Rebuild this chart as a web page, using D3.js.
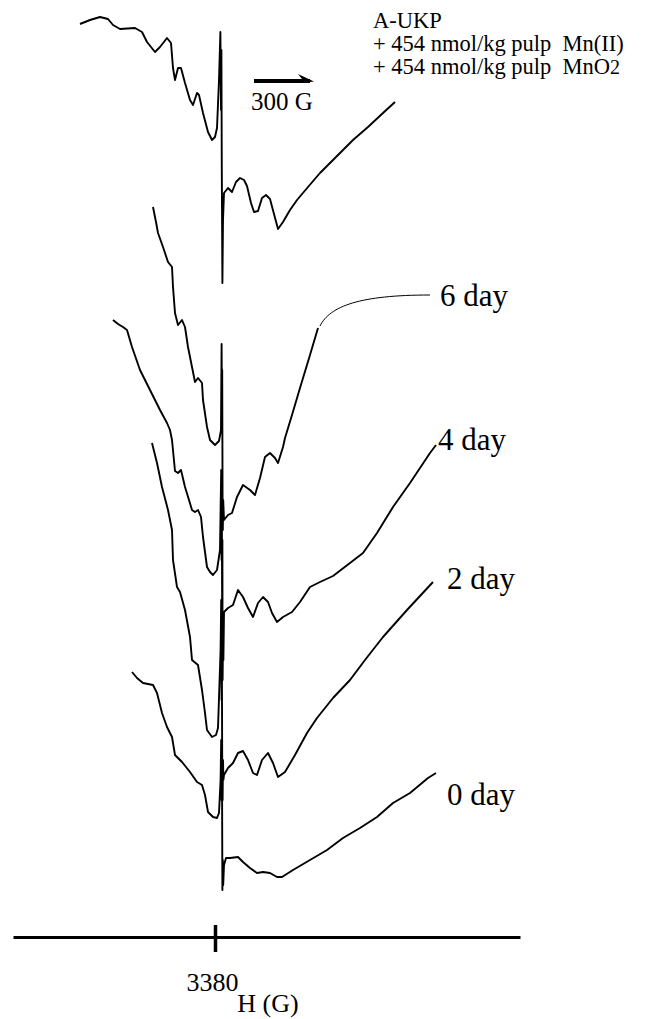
<!DOCTYPE html>
<html>
<head>
<meta charset="utf-8">
<script src="https://cdn.jsdelivr.net/npm/d3@7"></script>
<style>
body { margin: 0; background: #fff; }
text { font-family: "Liberation Serif", "Times New Roman", serif; fill: #000; }
</style>
</head>
<body>
<svg width="664" height="1019"></svg>
<script>
var width = 664;
var height = 1019;

// field axis (G)
var fieldTicks = [3380];
var scaleBarG = 300;
var scaleBarStart = 3575;

// sample note
var headerLines = ["A-UKP", "+ 454 nmol/kg pulp  Mn(II)", "+ 454 nmol/kg pulp  MnO"];

// stacked traces: vertical offset of each (a.u.)
var traceNames   = ["ref", "6 day", "4 day", "2 day", "0 day"];
var traceOffsets = [80, 55, 40, 25, 13];

// reference spectrum, top
var fieldA  = [2705, 2755, 2805, 2845, 2870, 2905, 2980, 3015, 3040, 3080, 3105, 3140, 3160, 3170, 3180, 3195, 3210, 3230, 3255, 3270, 3290, 3300, 3320, 3345, 3365, 3380, 3390, 3400, 3407, 3410, 3412, 3414, 3417, 3420, 3425, 3445, 3465, 3485, 3505, 3525, 3540, 3560, 3575, 3595, 3615, 3635, 3655, 3675, 3695, 3720, 3755, 3790, 3845, 3905, 3980, 4070, 4145, 4220, 4280];
var signalA = [17.6, 18.0, 18.3, 18.1, 17.5, 17.1, 17.2, 16.8, 15.8, 14.8, 15.3, 16.2, 15.7, 13.2, 12.0, 13.2, 13.2, 11.7, 10.0, 9.5, 10.7, 10.5, 8.7, 6.8, 6.0, 6.3, 7.2, 12.0, 16.8, 9.0, 15.0, 3.0, -8.3, -2.0, 0.7, 1.2, 0.8, 1.8, 2.2, 2.0, 1.4, -0.3, -1.2, -1.1, 0.2, 0.5, 0.1, -1.4, -2.9, -2.2, -1.0, 0.0, 1.3, 2.7, 4.2, 6.0, 7.3, 8.7, 9.8];

// 6 day
var field6  = [3070, 3085, 3095, 3120, 3145, 3165, 3170, 3180, 3195, 3215, 3230, 3245, 3265, 3280, 3295, 3315, 3320, 3340, 3355, 3380, 3400, 3410, 3413, 3415, 3416, 3418, 3419, 3421, 3425, 3445, 3465, 3490, 3520, 3555, 3580, 3605, 3630, 3655, 3680, 3695, 3720, 3730, 3765, 3805, 3855, 3895];
var signal6 = [24.3, 22.8, 21.7, 20.3, 18.8, 18.3, 16.3, 13.7, 12.5, 13.0, 12.3, 10.3, 8.3, 6.8, 7.2, 6.7, 5.0, 2.3, 1.0, 0.5, 0.9, 2.0, 10.6, 3.0, 8.0, -6.0, -8.0, -5.0, -7.0, -6.5, -6.3, -4.7, -3.5, -4.0, -4.5, -2.8, -0.7, -0.3, -0.8, -1.3, 0.3, 1.2, 3.5, 6.2, 9.5, 12.2];

// 4 day
var field4  = [2870, 2895, 2920, 2940, 2965, 3005, 3055, 3105, 3140, 3155, 3165, 3180, 3195, 3210, 3230, 3250, 3265, 3280, 3295, 3310, 3320, 3340, 3355, 3370, 3390, 3405, 3411, 3413, 3414, 3416, 3417, 3418, 3420, 3422, 3425, 3445, 3470, 3495, 3520, 3545, 3570, 3595, 3620, 3645, 3665, 3690, 3720, 3765, 3805, 3855, 3905, 3970, 4055, 4120, 4190, 4270, 4355, 4455, 4485];
var signal4 = [28.0, 27.6, 27.3, 27.0, 25.3, 23.0, 21.0, 19.0, 17.7, 17.0, 16.0, 12.9, 12.7, 13.0, 11.3, 10.0, 9.0, 8.8, 9.0, 8.3, 6.3, 3.3, 2.8, 2.5, 3.0, 5.0, 13.0, 4.0, 10.0, -3.0, 6.0, -8.0, -4.0, -6.0, -1.2, -0.8, -0.5, 1.0, 0.3, -0.8, -1.7, -0.3, 0.3, -0.2, -1.3, -2.2, -1.7, -1.2, -0.2, 1.3, 1.8, 2.4, 3.7, 4.7, 6.7, 9.3, 11.7, 14.7, 15.5];

// 2 day
var field2  = [3065, 3090, 3115, 3145, 3165, 3170, 3190, 3205, 3230, 3255, 3265, 3295, 3315, 3330, 3340, 3365, 3385, 3395, 3408, 3411, 3413, 3414, 3416, 3418, 3420, 3422, 3425, 3445, 3470, 3495, 3520, 3545, 3570, 3590, 3615, 3645, 3670, 3695, 3730, 3780, 3840, 3890, 3970, 4055, 4130, 4220, 4340, 4470];
var signal2 = [30.7, 28.7, 26.3, 24.0, 22.0, 19.0, 16.3, 15.8, 14.0, 11.3, 9.0, 8.5, 6.0, 3.7, 2.0, 1.3, 1.5, 2.2, 10.0, 15.0, 5.0, 11.0, -1.0, -5.0, -1.0, -3.0, -2.5, -1.8, -1.3, -0.3, -0.1, -1.0, -2.3, -2.5, -1.0, -0.3, -1.3, -2.7, -2.2, -0.5, 1.7, 3.2, 5.2, 7.0, 9.0, 11.3, 14.0, 16.8];

// 0 day
var field0  = [2965, 2990, 3020, 3070, 3090, 3115, 3140, 3165, 3180, 3215, 3255, 3290, 3315, 3330, 3345, 3370, 3390, 3400, 3408, 3411, 3413, 3415, 3417, 3419, 3421, 3425, 3435, 3455, 3495, 3520, 3555, 3590, 3620, 3655, 3690, 3715, 3770, 3855, 3940, 4020, 4105, 4190, 4270, 4355, 4445, 4485];
var signal0 = [19.8, 19.2, 18.7, 18.5, 17.7, 15.7, 14.3, 13.3, 11.5, 10.8, 9.8, 8.8, 8.5, 7.5, 5.8, 5.3, 5.2, 5.7, 9.0, 13.0, 7.0, 10.0, -2.0, 1.0, -1.5, 0.5, 1.2, 1.2, 1.3, 0.8, 0.2, -0.3, -0.2, -0.3, -0.7, -0.7, 0.0, 1.0, 2.0, 3.2, 4.2, 5.3, 6.7, 7.7, 9.2, 9.7];

var traceFields  = [fieldA, field6, field4, field2, field0];
var traceSignals = [signalA, signal6, signal4, signal2, signal0];

//Scales.
var axisY = 937;
var xScale = d3.scaleLinear().domain([2370, 4905]).range([13, 520]);
var yScale = d3.scaleLinear().domain([0, 100]).range([1000, 0]);

var svg = d3.select('svg');

var line = d3.line()
  .x(function (d) { return xScale(d[0]); })
  .y(function (d) { return yScale(d[1]); });

var traces = traceNames.map(function (name, i) {
  return {
    name: name,
    points: traceFields[i].map(function (f, j) { return [f, traceSignals[i][j] + traceOffsets[i]]; })
  };
});

svg.selectAll("path.trace")
  .data(traces)
  .enter()
  .append("path")
  .attr("class", "trace")
  .attr("d", function (d) { return line(d.points); })
  .attr("fill", "none")
  .attr("stroke", "#000")
  .attr("stroke-width", 1.9)
  .attr("stroke-linejoin", "round");

// day labels, placed relative to each trace offset
var labelPos = [
  {trace: 1, field: 4505, signal: 14.4},
  {trace: 2, field: 4495, signal: 15.0},
  {trace: 3, field: 4540, signal: 16.1},
  {trace: 4, field: 4540, signal: 6.5}
];

svg.selectAll("text.day")
  .data(labelPos)
  .enter()
  .append("text")
  .attr("class", "day")
  .attr("x", function (d) { return xScale(d.field); })
  .attr("y", function (d) { return yScale(d.signal + traceOffsets[d.trace]); })
  .attr("font-size", 31)
  .text(function (d) { return traceNames[d.trace]; });

// thin leader from the 6 day trace to its label
var last6 = traces[1].points[traces[1].points.length - 1];
var lx0 = xScale(last6[0]) + 2, ly0 = yScale(last6[1]) - 2;
var lx1 = xScale(labelPos[0].field) - 10, ly1 = yScale(labelPos[0].signal + traceOffsets[1]) - 11;
var leader = d3.path();
leader.moveTo(lx0, ly0);
leader.bezierCurveTo(lx0 + 10, ly0 - 20, lx0 + 40, ly1, lx1, ly1);
svg.append("path")
  .attr("d", leader.toString())
  .attr("fill", "none")
  .attr("stroke", "#000")
  .attr("stroke-width", 1);

// header, one text per line
var header = svg.selectAll("text.header")
  .data(headerLines)
  .enter()
  .append("text")
  .attr("class", "header")
  .attr("x", 373)
  .attr("y", function (d, i) { return 28 + i * 23; })
  .attr("font-size", 22.5)
  .attr("xml:space", "preserve")
  .style("white-space", "pre")
  .text(function (d) { return d; });
header.filter(function (d, i) { return i === 2; })
  .append("tspan").attr("font-size", 20).text("2");

// 300 G scale arrow
var ax0 = xScale(scaleBarStart), ax1 = xScale(scaleBarStart + scaleBarG);
svg.append("line")
  .attr("x1", ax0).attr("x2", ax1 - 4)
  .attr("y1", 81).attr("y2", 81)
  .attr("stroke", "#000")
  .attr("stroke-width", 4);
svg.append("path")
  .attr("d", "M" + ax1 + ",81.5L" + (ax1 - 16) + ",74L" + (ax1 - 12) + ",79L" + (ax1 - 12) + ",83Z")
  .attr("fill", "#000");
svg.append("text")
  .attr("x", ax0 - 3)
  .attr("y", 110)
  .attr("font-size", 25)
  .text(scaleBarG + " G");

//The axis!
var axisBottom = d3.axisBottom(xScale)
  .tickValues(fieldTicks)
  .tickSize(15)
  .tickSizeOuter(0)
  .tickFormat(d3.format("d"));

var gAxis = svg.append('g')
  .attr("transform", "translate(0," + axisY + ")")
  .call(axisBottom)
  .attr("font-family", '"Liberation Serif", "Times New Roman", serif')
  .attr("font-size", 26);

gAxis.select(".domain").attr("stroke-width", 3);
gAxis.selectAll(".tick line").attr("y1", -12).attr("stroke-width", 3.5);
gAxis.selectAll(".tick text").attr("y", 54).attr("dy", 0).attr("dx", -3);

// text label for the x axis
svg.append("text")
  .attr("x", 268)
  .attr("y", 1012)
  .attr("font-size", 26)
  .style("text-anchor", "middle")
  .text("H (G)");
</script>
</body>
</html>
